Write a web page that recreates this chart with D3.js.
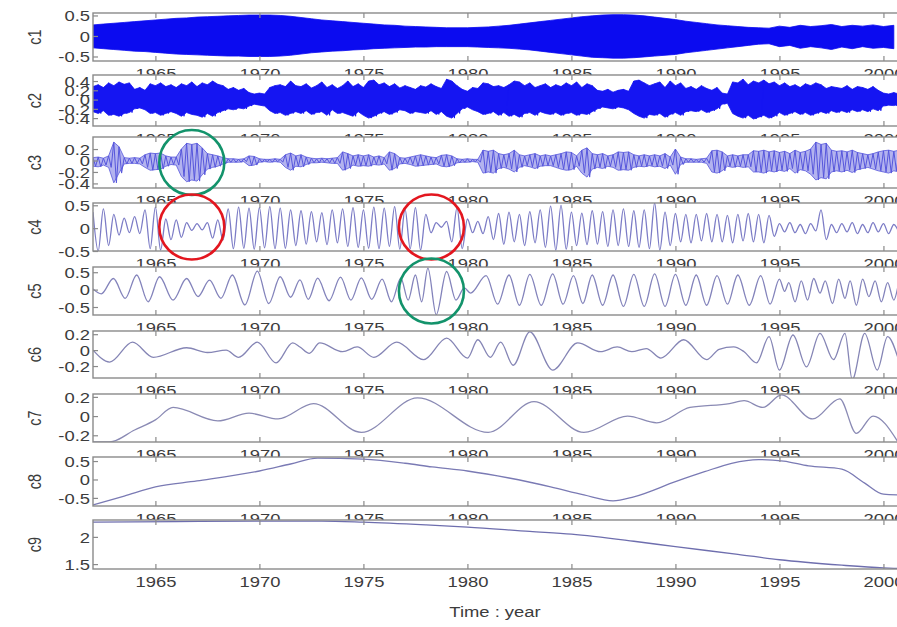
<!DOCTYPE html>
<html>
<head>
<meta charset="utf-8">
<script src="https://cdn.jsdelivr.net/npm/d3@7"></script>
<style>
  html, body { margin: 0; padding: 0; background: #fff; overflow: hidden; }
  svg { display: block; }
</style>
</head>
<body>
<svg id="chart" width="897" height="627"></svg>
<script>
// ---------------------------------------------------------------------------
// Empirical mode decomposition of the series, 1962-2000: IMFs c1..c8 and the
// residual trend c9.
// ---------------------------------------------------------------------------

const yearTicks = [1965, 1970, 1975, 1980, 1985, 1990, 1995, 2000];
const panelNames = ["c1", "c2", "c3", "c4", "c5", "c6", "c7", "c8", "c9"];

// y-axis limits and tick values of each component
const c1Domain = [-0.61, 0.56], c1Ticks = [0.5, 0, -0.5];
const c2Domain = [-0.57, 0.53], c2Ticks = [0.4, 0.2, 0, -0.2, -0.4];
const c3Domain = [-0.48, 0.41], c3Ticks = [0.2, 0, -0.2, -0.4];
const c4Domain = [-0.5, 0.55],  c4Ticks = [0.5, 0, -0.5];
const c5Domain = [-0.73, 0.65], c5Ticks = [0.5, 0, -0.5];
const c6Domain = [-0.35, 0.24], c6Ticks = [0.2, 0, -0.2];
const c7Domain = [-0.27, 0.23], c7Ticks = [0.2, 0, -0.2];
const c8Domain = [-0.72, 0.61], c8Ticks = [0.5, 0, -0.5];
const c9Domain = [1.41, 2.31],  c9Ticks = [2, 1.5];

// c1: fast oscillation, upper / lower envelope every half year from 1962.0
const c1Start = 1962, c1Step = 0.5;
const c1Upper = [
  0.27, 0.29,  0.31, 0.33,  0.35, 0.37,  0.39, 0.41,  0.43, 0.44,
  0.46, 0.47,  0.48, 0.49,  0.50, 0.51,  0.51, 0.51,  0.50, 0.48,
  0.45, 0.42,  0.39, 0.37,  0.35, 0.33,  0.31, 0.29,  0.27, 0.26,
  0.24, 0.23,  0.22, 0.21,  0.20, 0.20,  0.20, 0.21,  0.22, 0.24,
  0.26, 0.29,  0.32, 0.35,  0.38, 0.41,  0.44, 0.47,  0.49, 0.51,
  0.52, 0.52,  0.51, 0.49,  0.46, 0.43,  0.40, 0.36,  0.33, 0.30,
  0.27, 0.25,  0.23, 0.21,  0.20, 0.19,  0.24, 0.21,  0.26, 0.23,
  0.25, 0.28,  0.23, 0.26,  0.24, 0.27,  0.23, 0.26
];
const c1Lower = [
  -0.29, -0.31,  -0.33, -0.35,  -0.37, -0.38,  -0.40, -0.42,  -0.44, -0.45,
  -0.46, -0.47,  -0.48, -0.49,  -0.49, -0.50,  -0.50, -0.50,  -0.49, -0.47,
  -0.44, -0.41,  -0.39, -0.37,  -0.36, -0.34,  -0.33, -0.31,  -0.30, -0.29,
  -0.28, -0.27,  -0.27, -0.26,  -0.26, -0.26,  -0.26, -0.27,  -0.28, -0.29,
  -0.30, -0.32,  -0.34, -0.37,  -0.40, -0.43,  -0.46, -0.49,  -0.52, -0.53,
  -0.54, -0.54,  -0.53, -0.51,  -0.49, -0.47,  -0.45, -0.41,  -0.38, -0.35,
  -0.32, -0.29,  -0.26, -0.23,  -0.20, -0.19,  -0.26, -0.23,  -0.30, -0.26,
  -0.29, -0.33,  -0.27, -0.31,  -0.26, -0.30,  -0.28, -0.31
];

// c2: envelope every quarter year from 1962.0 (one row per year)
const c2Start = 1962, c2Step = 0.25;
const c2Upper = [
  0.28, 0.32, 0.26, 0.36,   0.30, 0.38, 0.33, 0.36,   0.22, 0.26, 0.20, 0.34,
  0.30, 0.36, 0.28, 0.32,   0.26, 0.34, 0.30, 0.38,   0.28, 0.36, 0.32, 0.40,
  0.33, 0.30, 0.22, 0.26,   0.20, 0.24, 0.15, 0.12,   0.14, 0.12, 0.26, 0.30,
  0.32, 0.28, 0.40, 0.30,   0.28, 0.34, 0.25, 0.30,   0.38, 0.26, 0.32, 0.24,
  0.30, 0.40, 0.28, 0.34,   0.26, 0.40, 0.42, 0.32,   0.36, 0.28, 0.34, 0.25,
  0.30, 0.26, 0.22, 0.30,   0.27, 0.34, 0.28, 0.24,   0.44, 0.40, 0.30, 0.22,
  0.18, 0.26, 0.24, 0.36,   0.34, 0.28, 0.30, 0.26,   0.32, 0.40, 0.38, 0.30,
  0.36, 0.26, 0.30, 0.34,   0.26, 0.32, 0.28, 0.36,   0.30, 0.38, 0.26, 0.34,
  0.30, 0.20, 0.18, 0.22,   0.16, 0.20, 0.22, 0.18,   0.40, 0.42, 0.36, 0.30,
  0.34, 0.38, 0.26, 0.40,   0.30, 0.36, 0.24, 0.28,   0.22, 0.30, 0.24, 0.20,
  0.26, 0.14, 0.12, 0.38,   0.36, 0.44, 0.32, 0.40,   0.36, 0.42, 0.34, 0.38,
  0.30, 0.36, 0.28, 0.32,   0.26, 0.34, 0.30, 0.36,   0.32, 0.24, 0.28, 0.26,
  0.24, 0.30, 0.22, 0.28,   0.26, 0.22, 0.28, 0.20,   0.14, 0.12, 0.15, 0.12
];
const c2Lower = [
  -0.26, -0.30, -0.24, -0.34,   -0.32, -0.36, -0.30, -0.28,   -0.20, -0.18, -0.22, -0.30,
  -0.28, -0.34, -0.30, -0.26,   -0.30, -0.36, -0.28, -0.32,   -0.34, -0.38, -0.30, -0.36,
  -0.28, -0.24, -0.20, -0.22,   -0.18, -0.20, -0.14, -0.10,   -0.12, -0.14, -0.24, -0.30,
  -0.28, -0.34, -0.30, -0.26,   -0.30, -0.24, -0.32, -0.28,   -0.26, -0.34, -0.22, -0.30,
  -0.28, -0.32, -0.36, -0.26,   -0.34, -0.40, -0.36, -0.30,   -0.26, -0.32, -0.28, -0.22,
  -0.24, -0.30, -0.26, -0.28,   -0.30, -0.24, -0.32, -0.26,   -0.36, -0.40, -0.30, -0.20,
  -0.16, -0.22, -0.26, -0.32,   -0.30, -0.26, -0.34, -0.28,   -0.36, -0.32, -0.38, -0.30,
  -0.28, -0.34, -0.26, -0.30,   -0.32, -0.28, -0.34, -0.30,   -0.28, -0.34, -0.30, -0.32,
  -0.26, -0.20, -0.16, -0.18,   -0.20, -0.16, -0.18, -0.22,   -0.30, -0.36, -0.40, -0.32,
  -0.34, -0.30, -0.38, -0.32,   -0.28, -0.34, -0.26, -0.24,   -0.26, -0.22, -0.28, -0.24,
  -0.20, -0.10, -0.08, -0.30,   -0.36, -0.40, -0.34, -0.42,   -0.38, -0.34, -0.40, -0.36,
  -0.28, -0.34, -0.30, -0.26,   -0.32, -0.28, -0.34, -0.30,   -0.26, -0.30, -0.24, -0.28,
  -0.24, -0.28, -0.22, -0.26,   -0.22, -0.26, -0.20, -0.24,   -0.14, -0.12, -0.13, -0.10
];

// c3: bursty oscillation, envelope every quarter year from 1962.0
const c3Start = 1962, c3Step = 0.25;
const c3Upper = [
  0.05, 0.06, 0.04, 0.08,   0.32, 0.24, 0.05, 0.04,   0.05, 0.04, 0.10, 0.13,
  0.12, 0.13, 0.08, 0.06,   0.06, 0.20, 0.30, 0.28,   0.30, 0.22, 0.12, 0.10,
  0.08, 0.05, 0.03, 0.03,   0.02, 0.03, 0.08, 0.07,   0.03, 0.02, 0.02, 0.03,
  0.02, 0.10, 0.13, 0.08,   0.10, 0.06, 0.04, 0.03,   0.04, 0.03, 0.04, 0.05,
  0.15, 0.12, 0.08, 0.10,   0.08, 0.10, 0.06, 0.08,   0.05, 0.15, 0.12, 0.05,
  0.04, 0.06, 0.08, 0.10,   0.08, 0.06, 0.05, 0.09,   0.10, 0.08, 0.03, 0.02,
  0.03, 0.02, 0.02, 0.18,   0.16, 0.18, 0.12, 0.10,   0.12, 0.18, 0.10, 0.08,
  0.10, 0.12, 0.08, 0.10,   0.08, 0.10, 0.12, 0.15,   0.14, 0.08, 0.18, 0.22,
  0.12, 0.10, 0.12, 0.08,   0.10, 0.15, 0.14, 0.15,   0.10, 0.08, 0.10, 0.08,
  0.10, 0.08, 0.12, 0.06,   0.20, 0.06, 0.03, 0.03,   0.02, 0.03, 0.04, 0.17,
  0.18, 0.15, 0.08, 0.10,   0.08, 0.10, 0.10, 0.17,   0.16, 0.18, 0.15, 0.17,
  0.14, 0.16, 0.12, 0.18,   0.14, 0.16, 0.20, 0.32,   0.28, 0.30, 0.18, 0.16,
  0.17, 0.15, 0.18, 0.14,   0.12, 0.10, 0.12, 0.15,   0.17, 0.18, 0.16, 0.18
];
const c3Lower = [
  -0.10, -0.11, -0.08, -0.12,   -0.39, -0.22, -0.06, -0.05,   -0.05, -0.06, -0.12, -0.17,
  -0.16, -0.15, -0.10, -0.07,   -0.08, -0.28, -0.37, -0.34,   -0.36, -0.25, -0.15, -0.12,
  -0.10, -0.06, -0.03, -0.03,   -0.03, -0.02, -0.09, -0.08,   -0.03, -0.02, -0.03, -0.02,
  -0.03, -0.12, -0.17, -0.10,   -0.11, -0.07, -0.04, -0.04,   -0.03, -0.04, -0.05, -0.05,
  -0.17, -0.14, -0.08, -0.10,   -0.09, -0.10, -0.07, -0.08,   -0.06, -0.17, -0.14, -0.06,
  -0.05, -0.07, -0.10, -0.09,   -0.08, -0.07, -0.06, -0.10,   -0.11, -0.09, -0.04, -0.03,
  -0.03, -0.02, -0.03, -0.22,   -0.20, -0.22, -0.14, -0.12,   -0.15, -0.20, -0.12, -0.09,
  -0.11, -0.14, -0.10, -0.09,   -0.09, -0.12, -0.15, -0.17,   -0.16, -0.10, -0.22, -0.29,
  -0.15, -0.12, -0.14, -0.10,   -0.12, -0.17, -0.16, -0.17,   -0.12, -0.10, -0.11, -0.09,
  -0.11, -0.10, -0.14, -0.08,   -0.24, -0.07, -0.03, -0.03,   -0.03, -0.03, -0.05, -0.20,
  -0.22, -0.18, -0.10, -0.12,   -0.10, -0.12, -0.11, -0.20,   -0.20, -0.22, -0.18, -0.20,
  -0.17, -0.19, -0.14, -0.22,   -0.16, -0.18, -0.24, -0.34,   -0.30, -0.32, -0.20, -0.18,
  -0.20, -0.17, -0.21, -0.16,   -0.14, -0.12, -0.15, -0.18,   -0.20, -0.22, -0.18, -0.20
];

// c4: successive peaks and troughs, a quarter year apart from 1962.0
const c4Start = 1962, c4Step = 0.25;
const c4Values = [
  0.35, -0.50, 0.42, -0.38,   0.30, -0.15, 0.22, -0.10,   0.25, -0.12, 0.40, -0.45,
  0.46, -0.48, 0.20, -0.25,   0.18, -0.20, 0.12, -0.05,   0.10, -0.04, 0.12, -0.22,
  0.18, -0.26, 0.42, -0.45,   0.46, -0.44, 0.44, -0.46,   0.45, -0.43, 0.47, -0.45,
  0.44, -0.44, 0.40, -0.38,   0.38, -0.35, 0.36, -0.30,   0.34, -0.36, 0.40, -0.32,
  0.42, -0.40, 0.45, -0.42,   0.40, -0.44, 0.46, -0.45,   0.44, -0.40, 0.47, -0.46,
  0.42, -0.45, 0.45, -0.48,   0.30, -0.10, 0.12, 0.02,    0.15, -0.30, 0.45, -0.45,
  0.20, -0.10, 0.15, -0.12,   0.25, -0.25, 0.32, -0.35,   0.35, -0.30, 0.30, -0.38,
  0.36, -0.32, 0.40, -0.42,   0.48, -0.48, 0.50, -0.46,   0.35, -0.38, 0.33, -0.36,
  0.38, -0.35, 0.36, -0.40,   0.40, -0.38, 0.42, -0.40,   0.38, -0.42, 0.40, -0.45,
  0.55, -0.48, 0.35, -0.38,   0.32, -0.30, 0.30, -0.32,   0.30, -0.28, 0.32, -0.30,
  0.30, -0.30, 0.28, -0.32,   0.30, -0.28, 0.32, -0.30,   0.30, -0.32, 0.28, -0.18,
  0.10, -0.08, 0.12, -0.10,   0.08, -0.12, 0.10, -0.06,   0.40, -0.25, 0.08, -0.10,
  0.10, -0.08, 0.12, -0.12,   0.08, -0.10, 0.12, -0.08,   0.10, -0.12, 0.08, -0.10
];

// c5: roughly annual cycle, turning points (year, value)
const c5Years = [
  1962.00, 1962.40, 1962.98, 1963.55, 1964.10, 1964.65, 1965.20, 1965.85, 1966.50, 1967.05,
  1967.60, 1968.15, 1968.70, 1969.30, 1969.90, 1970.45, 1971.00, 1971.50, 1971.95, 1972.35,
  1972.80, 1973.35, 1973.90, 1974.40, 1974.90, 1975.40, 1975.90, 1976.35, 1976.80, 1977.15,
  1977.50, 1977.80, 1978.10, 1978.50, 1979.00, 1979.45, 1979.85, 1980.15, 1980.90, 1981.45,
  1982.00, 1982.50, 1983.00, 1983.55, 1984.10, 1984.60, 1985.10, 1985.55, 1986.00, 1986.50,
  1987.00, 1987.50, 1988.00, 1988.50, 1989.00, 1989.50, 1990.00, 1990.50, 1991.00, 1991.50,
  1992.00, 1992.50, 1993.00, 1993.55, 1994.10, 1994.55, 1995.00, 1995.25, 1995.45, 1995.75,
  1996.05, 1996.35, 1996.65, 1996.95, 1997.20, 1997.55, 1997.85, 1998.15, 1998.40, 1998.70,
  1999.00, 1999.30, 1999.60, 1999.90, 2000.20, 2000.50, 2000.70
];
const c5Values = [
  0.02, -0.12, 0.32, -0.25, 0.42, -0.35, 0.37, -0.30, 0.32, -0.20,
  0.27, -0.25, 0.42, -0.44, 0.53, -0.40, 0.37, -0.22, 0.28, -0.28,
  0.33, -0.32, 0.36, -0.30, 0.34, -0.28, 0.30, -0.35, 0.33, -0.30,
  0.42, -0.35, 0.62, -0.72, 0.52, -0.30, 0.05, -0.10, 0.40, -0.42,
  0.42, -0.45, 0.44, -0.45, 0.45, -0.42, 0.40, -0.40, 0.42, -0.45,
  0.42, -0.48, 0.44, -0.48, 0.45, -0.48, 0.44, -0.45, 0.42, -0.45,
  0.40, -0.42, 0.42, -0.45, 0.40, -0.42, 0.30, -0.05, 0.20, -0.35,
  0.25, -0.30, 0.32, -0.10, 0.25, -0.40, 0.30, -0.25, 0.25, -0.45,
  0.30, -0.20, 0.25, -0.35, 0.20, -0.30, 0.10
];

// c6: turning points
const c6Years = [
  1962.0, 1962.8, 1963.9, 1964.9, 1966.5, 1967.5, 1968.4, 1969.0, 1969.9, 1970.8,
  1971.6, 1971.95, 1972.4, 1972.9, 1974.0, 1974.7, 1975.5, 1976.6, 1977.9, 1979.0,
  1980.0, 1980.5, 1981.1, 1981.6, 1982.2, 1983.0, 1984.1, 1985.3, 1986.4, 1987.2,
  1987.9, 1988.6, 1989.3, 1990.4, 1991.5, 1992.1, 1992.8, 1993.3, 1993.9, 1994.5,
  1995.0, 1995.65, 1996.3, 1996.95, 1997.6, 1998.15, 1998.5, 1999.1, 1999.7, 2000.2,
  2000.7
];
const c6Values = [
  0.00, -0.15, 0.10, -0.09, 0.03, -0.03, 0.00, -0.09, 0.10, -0.16,
  0.09, 0.04, -0.04, 0.09, -0.02, 0.04, -0.09, 0.10, -0.12, 0.15,
  -0.10, 0.13, -0.09, 0.10, -0.19, 0.23, -0.25, 0.09, -0.02, 0.04,
  -0.02, 0.02, -0.10, 0.13, -0.12, 0.01, 0.04, -0.02, -0.16, 0.17,
  -0.25, 0.19, -0.21, 0.21, -0.12, 0.21, -0.37, 0.21, -0.25, 0.17,
  -0.10
];

// c7: turning points
const c7Years = [
  1962.0, 1962.8, 1964.0, 1965.0, 1965.85, 1968.0, 1969.5, 1970.9, 1972.6, 1974.9,
  1977.6, 1981.0, 1983.2, 1985.6, 1987.7, 1989.1, 1990.7, 1992.6, 1993.3, 1994.2,
  1995.1, 1996.6, 1997.9, 1998.7, 1999.5, 2000.7
];
const c7Values = [
  -0.27, -0.27, -0.145, -0.04, 0.09, -0.05, 0.03, -0.03, 0.13, -0.17,
  0.19, -0.17, 0.15, -0.17, 0.00, -0.07, 0.09, 0.13, 0.16, 0.09,
  0.22, -0.03, 0.18, -0.18, 0.00, -0.27
];

// c8: slow oscillation
const c8Years = [
  1962.0, 1963.5, 1965.0, 1967.0, 1970.0, 1971.5, 1972.8, 1975.0, 1977.0, 1978.3,
  1980.0, 1982.0, 1984.0, 1985.6, 1987.0, 1988.0, 1990.0, 1991.4, 1992.7, 1994.0,
  1995.2, 1996.4, 1998.0, 1999.1, 2000.0, 2000.7
];
const c8Values = [
  -0.69, -0.45, -0.20, -0.04, 0.23, 0.42, 0.58, 0.55, 0.44, 0.34,
  0.23, 0.04, -0.20, -0.42, -0.58, -0.47, -0.06, 0.21, 0.44, 0.54,
  0.50, 0.37, 0.28, -0.10, -0.40, -0.42
];

// c9: residual trend
const c9Years = [
  1962, 1966, 1970, 1973, 1975, 1978, 1980, 1983, 1985, 1988,
  1990, 1993, 1995, 1998, 2000, 2000.7
];
const c9Values = [
  2.27, 2.28, 2.29, 2.29, 2.27, 2.22, 2.18, 2.10, 2.05, 1.92,
  1.82, 1.68, 1.58, 1.48, 1.43, 1.42
];

// ringed episodes: component, central year, ring colour
const ringPanels = ["c3", "c4", "c4", "c5"];
const ringYears  = [1966.75, 1966.75, 1978.27, 1978.27];
const ringColors = ["#13936b", "#e3161f", "#e3161f", "#13936b"];

// ---------------------------------------------------------------------------
// Layout
// ---------------------------------------------------------------------------
const SX = 1.27;                       // horizontal widening of the lettering
const FONT = '"Liberation Sans", Arial, Helvetica, sans-serif';
const FONT_SIZE = 14.5;
const TEXT_COLOR = "#3c3c3c";
const FRAME_COLOR = "#8a8a8a";
const plotLeft = 93, plotRight = 898;
const panelTop    = [13, 75, 137, 203, 267, 331, 394, 457, 520];
const panelBottom = [61, 126, 188, 251, 315, 378, 442, 506, 569];

const svg = d3.select("#chart");
svg.append("rect").attr("width", 897).attr("height", 627).attr("fill", "#fff");

const x = d3.scaleLinear().domain([1962, 2000.7]).range([plotLeft, plotRight]);

const seq = (start, step, n) => d3.range(n).map(i => start + i * step);
const zip = (ts, vs) => ts.map((t, i) => [t, vs[i]]);

const panels = [
  { domain: c1Domain, ticks: c1Ticks, kind: "band", start: c1Start, step: c1Step,
    up: c1Upper, lo: c1Lower, color: "#0b0bf0", fillOpacity: 1, zigzag: false },
  { domain: c2Domain, ticks: c2Ticks, kind: "band", start: c2Start, step: c2Step,
    up: c2Upper, lo: c2Lower, color: "#1515f2", fillOpacity: 1, zigzag: true },
  { domain: c3Domain, ticks: c3Ticks, kind: "band", start: c3Start, step: c3Step,
    up: c3Upper, lo: c3Lower, color: "#5656dc", fillOpacity: 0.45, zigzag: true },
  { domain: c4Domain, ticks: c4Ticks, kind: "line",
    pts: zip(seq(c4Start, c4Step, c4Values.length), c4Values), color: "#7c7cc6" },
  { domain: c5Domain, ticks: c5Ticks, kind: "line", pts: zip(c5Years, c5Values), color: "#8383bb" },
  { domain: c6Domain, ticks: c6Ticks, kind: "line", pts: zip(c6Years, c6Values), color: "#8585b5" },
  { domain: c7Domain, ticks: c7Ticks, kind: "line", pts: zip(c7Years, c7Values), color: "#8a8ab4" },
  { domain: c8Domain, ticks: c8Ticks, kind: "line", pts: zip(c8Years, c8Values), color: "#7a7ab4" },
  { domain: c9Domain, ticks: c9Ticks, kind: "line", pts: zip(c9Years, c9Values), color: "#6e6eae" }
];

panels.forEach((p, i) => {
  const top = panelTop[i], bottom = panelBottom[i];
  const y = d3.scaleLinear().domain(p.domain).range([bottom, top]);
  const g = svg.append("g").attr("class", "panel " + panelNames[i]);

  // white axes background (hides the lower half of the labels above)
  g.append("rect")
    .attr("x", plotLeft).attr("y", top)
    .attr("width", plotRight - plotLeft).attr("height", bottom - top)
    .attr("fill", "#fff");

  const clipId = "clip-" + panelNames[i];
  g.append("clipPath").attr("id", clipId)
    .append("rect")
    .attr("x", plotLeft).attr("y", top)
    .attr("width", plotRight - plotLeft).attr("height", bottom - top);

  const data = g.append("g").attr("clip-path", `url(#${clipId})`);

  if (p.kind === "band") {
    const ts = seq(p.start, p.step, p.up.length);
    const rows = ts.map((t, k) => ({ t, up: p.up[k], lo: p.lo[k] }));
    data.append("path")
      .datum(rows)
      .attr("fill", p.color)
      .attr("fill-opacity", p.fillOpacity)
      .attr("stroke", p.color)
      .attr("stroke-width", 0.8)
      .attr("d", d3.area().x(d => x(d.t)).y0(d => y(d.lo)).y1(d => y(d.up)));
    if (p.zigzag) {
      const zz = [];
      rows.forEach(d => { zz.push([d.t, d.up]); zz.push([d.t + p.step / 2, d.lo]); });
      data.append("path")
        .datum(zz)
        .attr("fill", "none")
        .attr("stroke", p.color)
        .attr("stroke-width", 1)
        .attr("d", d3.line().x(d => x(d[0])).y(d => y(d[1])));
    }
  } else {
    data.append("path")
      .datum(p.pts)
      .attr("fill", "none")
      .attr("stroke", p.color)
      .attr("stroke-width", 1.3)
      .attr("d", d3.line().curve(d3.curveMonotoneX).x(d => x(d[0])).y(d => y(d[1])));
  }

  // frame
  g.append("rect")
    .attr("x", plotLeft).attr("y", top)
    .attr("width", plotRight - plotLeft).attr("height", bottom - top)
    .attr("fill", "none").attr("stroke", FRAME_COLOR).attr("stroke-width", 1.4);

  // x axes: inward ticks top and bottom, labels below
  const xb = g.append("g").attr("transform", `translate(0,${bottom})`)
    .call(d3.axisBottom(x).tickValues(yearTicks).tickSizeInner(-5).tickSizeOuter(0)
      .tickFormat(d3.format("d")));
  const xt = g.append("g").attr("transform", `translate(0,${top})`)
    .call(d3.axisTop(x).tickValues(yearTicks).tickSizeInner(-5).tickSizeOuter(0)
      .tickFormat(""));

  // y axis: inward ticks, labels at the left
  const ya = g.append("g").attr("transform", `translate(${plotLeft},0)`)
    .call(d3.axisLeft(y).tickValues(p.ticks).tickSizeInner(-5).tickSizeOuter(0)
      .tickFormat(d => String(d)));

  [xb, xt, ya].forEach(a => {
    a.select(".domain").remove();
    a.selectAll(".tick line").attr("stroke", FRAME_COLOR).attr("stroke-width", 1.2);
    a.selectAll("text")
      .attr("fill", TEXT_COLOR)
      .style("font-family", FONT)
      .style("font-size", FONT_SIZE + "px");
  });
  xb.selectAll("text")
    .attr("y", 8).attr("dy", "0.72em")
    .attr("transform", `scale(${SX},1)`);
  ya.selectAll("text")
    .attr("x", -3 / SX).attr("dy", "0.36em")
    .attr("transform", `scale(${SX},1)`);

  // component name
  g.append("text")
    .attr("transform", `translate(41,${(top + bottom) / 2}) scale(${SX},1) rotate(-90)`)
    .attr("text-anchor", "middle")
    .attr("fill", TEXT_COLOR)
    .style("font-family", FONT)
    .style("font-size", FONT_SIZE + "px")
    .text(panelNames[i]);
});

// time axis title
svg.append("text")
  .attr("transform", `translate(${(plotLeft + 897) / 2},617) scale(${SX},1)`)
  .attr("text-anchor", "middle")
  .attr("fill", TEXT_COLOR)
  .style("font-family", FONT)
  .style("font-size", FONT_SIZE + "px")
  .text("Time : year");

// rings around the highlighted episodes
ringPanels.forEach((name, k) => {
  const i = panelNames.indexOf(name);
  svg.append("circle")
    .attr("cx", x(ringYears[k]))
    .attr("cy", (panelTop[i] + panelBottom[i]) / 2)
    .attr("r", 32.5)
    .attr("fill", "none")
    .attr("stroke", ringColors[k])
    .attr("stroke-width", 2.6);
});
</script>
</body>
</html>
